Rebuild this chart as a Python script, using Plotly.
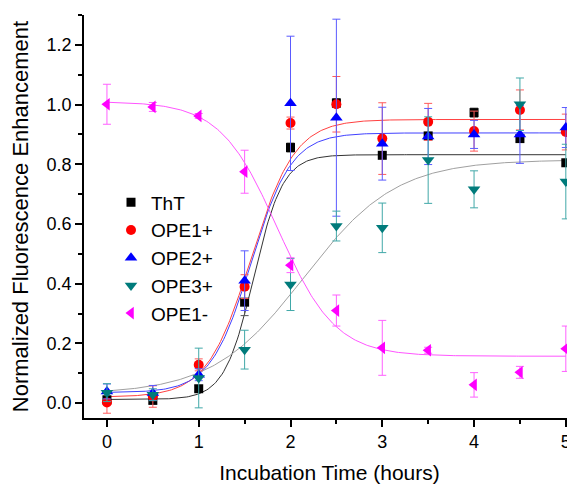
import numpy as np
import plotly.graph_objects as go

# ---- data ----
time_h = [0, 0.5, 1, 1.5, 2, 2.5, 3, 3.5, 4, 4.5, 5]

tht = [0.011, 0.009, 0.048, 0.338, 0.856, 1.005, 0.830, 0.895, 0.973, 0.886, 0.805]
tht_err = [0.010, 0.010, 0.010, 0.045, 0.015, 0.015, 0.010, 0.010, 0.015, 0.010, 0.010]

ope1p = [0.002, 0.022, 0.128, 0.390, 0.938, 1.001, 0.886, 0.942, 0.911, 0.982, 0.908]
ope1p_err = [0.036, 0.036, 0.020, 0.040, 0.020, 0.093, 0.120, 0.062, 0.067, 0.067, 0.060]

ope2p = [0.039, 0.034, 0.095, 0.410, 1.004, 0.956, 0.869, 0.893, 0.900, 0.900, 0.923]
ope2p_err = [0.025, 0.025, 0.020, 0.100, 0.225, 0.330, 0.122, 0.094, 0.047, 0.097, 0.067]

ope3p = [0.035, 0.028, 0.084, 0.179, 0.397, 0.593, 0.587, 0.814, 0.716, 1.001, 0.742]
ope3p_err = [0.030, 0.020, 0.100, 0.065, 0.087, 0.050, 0.083, 0.145, 0.062, 0.088, 0.125]

ope1m = [1.001, 0.992, 0.962, 0.775, 0.462, 0.310, 0.185, 0.177, 0.061, 0.103, 0.182]
ope1m_err = [0.067, 0.015, 0.008, 0.072, 0.025, 0.052, 0.092, 0.010, 0.041, 0.020, 0.076]

names = ["ThT", "OPE1+", "OPE2+", "OPE3+", "OPE1-"]

# Boltzmann sigmoid fit parameters (A1, A2, x0, dx)
fit_params = {
    "ThT": (0.012, 0.832, 1.60, 0.16),
    "OPE1+": (0.020, 0.950, 1.57, 0.24),
    "OPE2+": (0.035, 0.905, 1.57, 0.22),
    "OPE3+": (0.030, 0.815, 2.15, 0.50),
    "OPE1-": (1.010, 0.157, 1.862, 0.313),
}

x_ticks = [0, 1, 2, 3, 4, 5]
y_ticks = [0.0, 0.2, 0.4, 0.6, 0.8, 1.0, 1.2]
y_tick_labels = ["0.0", "0.2", "0.4", "0.6", "0.8", "1.0", "1.2"]

# ---- styles ----
FONT = "Arial, Liberation Sans, sans-serif"
styles = {
    "ThT": dict(color="#000000", err="#555555", fit="#333333", symbol="square", size=9),
    "OPE1+": dict(color="#ff0000", err="#ff5a5a", fit="#ff4040", symbol="circle", size=10),
    "OPE2+": dict(color="#0000ff", err="#5a5aff", fit="#4040ff", symbol="triangle-up", size=11),
    "OPE3+": dict(color="#007b7b", err="#40a8a8", fit="#a0a0a0", symbol="triangle-down", size=11),
    "OPE1-": dict(color="#ff00ff", err="#ff60ff", fit="#ff55ff", symbol="triangle-left", size=11),
}
series = {
    "ThT": (tht, tht_err),
    "OPE1+": (ope1p, ope1p_err),
    "OPE2+": (ope2p, ope2p_err),
    "OPE3+": (ope3p, ope3p_err),
    "OPE1-": (ope1m, ope1m_err),
}


def boltzmann(x, a1, a2, x0, dx):
    return a2 + (a1 - a2) / (1.0 + np.exp((x - x0) / dx))


fig = go.Figure()
xf = np.linspace(0, 5, 300)
for n in names:
    st = styles[n]
    fig.add_trace(go.Scatter(
        x=xf, y=boltzmann(xf, *fit_params[n]), mode="lines",
        line=dict(color=st["fit"], width=1), showlegend=False, hoverinfo="skip"))

for n in names:
    st = styles[n]
    yv, ev = series[n]
    fig.add_trace(go.Scatter(
        x=time_h, y=yv, mode="markers", name=n, cliponaxis=False,
        marker=dict(symbol=st["symbol"], size=st["size"], color=st["color"],
                    line=dict(width=0)),
        error_y=dict(type="data", array=ev, visible=True, color=st["err"],
                     thickness=1, width=4)))

# The page body has an 8px margin, so the figure is 8px smaller than the window
fig.update_layout(
    width=567, height=476,
    margin=dict(l=76, r=0, t=7, b=66),
    paper_bgcolor="white", plot_bgcolor="white",
    font=dict(family=FONT, size=18, color="#000000"),
    showlegend=True,
    legend=dict(x=0.055, y=0.582, xanchor="left", yanchor="top",
                font=dict(family=FONT, size=19, color="#000000"),
                bgcolor="rgba(0,0,0,0)", tracegroupgap=0, itemwidth=30),
    xaxis=dict(range=[-0.25, 5.1], tickmode="array", tickvals=x_ticks,
               automargin=False, ticklabeloverflow="allow",
               ticks="outside", ticklen=7, tickwidth=1.5, tickcolor="#000",
               showline=True, linecolor="#000", linewidth=1.5,
               showgrid=False, zeroline=False,
               minor=dict(dtick=0.5, tick0=0, ticks="outside", ticklen=4,
                          tickwidth=1.5, tickcolor="#000", showgrid=False),
               tickfont=dict(size=18),
               title=dict(text="Incubation Time (hours)", font=dict(size=21))),
    yaxis=dict(range=[-0.05, 1.3], tickmode="array", tickvals=y_ticks,
               ticktext=y_tick_labels, automargin=False,
               ticks="outside", ticklen=7, tickwidth=1.5, tickcolor="#000",
               showline=True, linecolor="#000", linewidth=1.5,
               showgrid=False, zeroline=False,
               minor=dict(dtick=0.1, tick0=0, ticks="outside", ticklen=4,
                          tickwidth=1.5, tickcolor="#000", showgrid=False),
               tickfont=dict(size=18),
               title=dict(text="Normalized Fluorescence Enhancement", font=dict(size=22))),
)

fig.write_html("out.html")
